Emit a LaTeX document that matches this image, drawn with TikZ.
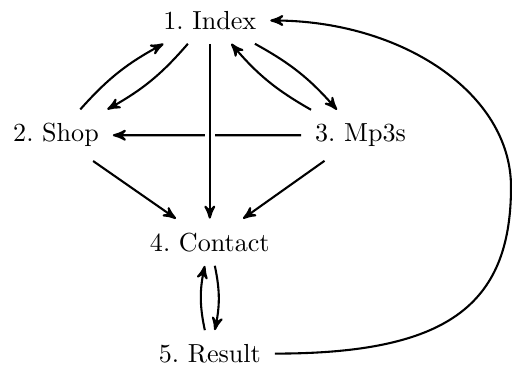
\documentclass[tikz,border=0pt]{standalone}
\usetikzlibrary{arrows}
\frenchspacing
\begin{document}
\begin{tikzpicture}[x=0.38314pt, y=-0.38314pt, >=stealth', thick,
  page/.style={inner sep=5pt},
  crossing/.style={preaction={draw=white, line width=4pt, -}}]
\useasboundingbox (0,0) rectangle (512,365);
\node[page] (1) at (209.8,20.5) {1. Index};
\node[page] (2) at (56,135.2) {2. Shop};
\node[page] (3) at (360.5,135.3) {3. Mp3s};
\node[page] (4) at (209.8,242.2) {4. Contact};
\node[page] (5) at (209.8,353.6) {5. Result};
\coordinate (peak) at (511,187);
\draw[->] (2) to[bend left=10] (1);
\draw[->] (1) to[bend left=10] (2);
\draw[->] (1) to[bend left=10] (3);
\draw[->] (3) to[bend left=10] (1);
\draw[->] (3) -- (2);
\draw[->, crossing] (1) -- (4);
\draw[->] (2) -- (4);
\draw[->] (3) -- (4);
\draw[->] (4) to[bend left=12] (5);
\draw[->] (5) to[bend left=12] (4);
\draw[->] (5.east) .. controls +(170,0) and +(0,120) .. (peak)
  .. controls +(0,-94) and +(131,0) .. (1.east);
\end{tikzpicture}
\end{document}
